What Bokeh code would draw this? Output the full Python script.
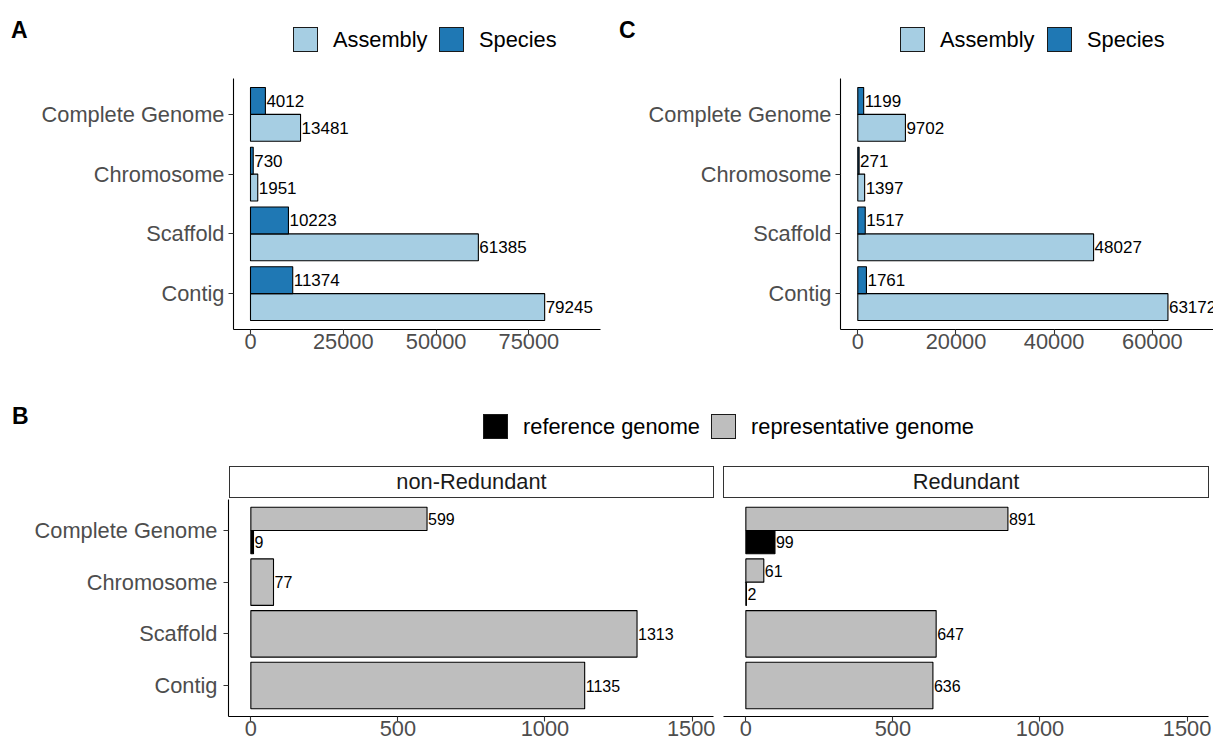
from bokeh.plotting import figure
from bokeh.models import (ColumnDataSource, Range1d, FixedTicker, SingleIntervalTicker,
                          NumeralTickFormatter, Div)
from bokeh.layouts import column, row
from bokeh.embed import file_html
from bokeh.resources import INLINE
from bokeh.core.properties import value

# ---------------- data ----------------
categories = ["Contig", "Scaffold", "Chromosome", "Complete Genome"]   # bottom -> top

assembly_A = [79245, 61385, 1951, 13481]
species_A = [11374, 10223, 730, 4012]

assembly_C = [63172, 48027, 1397, 9702]
species_C = [1761, 1517, 271, 1199]

facets_B = ["non-Redundant", "Redundant"]
reference_nonred = [None, None, None, 9]
representative_nonred = [1135, 1313, 77, 599]
reference_red = [None, None, 2, 99]
representative_red = [636, 647, 61, 891]

legend_A = ["Assembly", "Species"]
legend_B = ["reference genome", "representative genome"]
panel_letters = ["A", "C", "B"]

# ---------------- style ----------------
FONT = "Liberation Sans"
COL_ASM = "#A6CEE3"
COL_SPE = "#1F78B4"
COL_REF = "#000000"
COL_REP = "#BEBEBE"
TICK_FS = "21.8px"
DODGE = 0.225
BAR_H = 0.45

cat_pos = list(range(1, len(categories) + 1))


def make_fig(width, height, xr, mb_left, mb_right, mb_top, mb_bottom, interval,
             show_y=True, y_standoff=4):
    p = figure(width=width, height=height, x_range=Range1d(*xr), y_range=Range1d(0.4, 4.6),
               output_backend="svg", toolbar_location=None,
               min_border_left=mb_left, min_border_right=mb_right,
               min_border_top=mb_top, min_border_bottom=mb_bottom,
               y_axis_location="left" if show_y else None)
    p.outline_line_color = None
    p.grid.visible = False
    p.background_fill_color = "white"
    p.border_fill_color = "white"
    ax = p.xaxis[0]
    ax.ticker = SingleIntervalTicker(interval=interval)
    ax.formatter = NumeralTickFormatter(format="0")
    axes = [ax]
    if show_y:
        ay = p.yaxis[0]
        ay.ticker = FixedTicker(ticks=cat_pos)
        ay.major_label_overrides = {c: n for c, n in zip(cat_pos, categories)}
        ay.major_label_standoff = y_standoff
        axes.append(ay)
    for a in axes:
        a.axis_line_color = "black"
        a.axis_line_width = 1.1
        a.major_tick_line_color = "#333333"
        a.major_tick_line_width = 1.1
        a.major_tick_in = 0
        a.major_tick_out = 5
        a.minor_tick_line_color = None
        a.major_label_text_font = FONT
        a.major_label_text_font_size = TICK_FS
        a.major_label_text_color = "#4D4D4D"
    ax.major_label_standoff = -1
    return p


def header_div(width, height, letter, letter_left, letter_top, labels, colors, lefts, top):
    parts = [f'<div style="position:relative;width:{width}px;height:{height}px;'
             f'font-family:\'{FONT}\', sans-serif;color:#000;">',
             f'<div style="position:absolute;left:{letter_left}px;top:{letter_top}px;'
             f'font-size:23px;font-weight:bold;line-height:23px;">{letter}</div>']
    for lab, col, l in zip(labels, colors, lefts):
        parts.append(f'<div style="position:absolute;left:{l}px;top:{top}px;width:25px;height:25px;'
                     f'box-sizing:border-box;border:1.4px solid #1a1a1a;background:{col};"></div>')
        parts.append(f'<div style="position:absolute;left:{l + 40}px;top:{top}px;height:25px;'
                     f'line-height:25px;font-size:{TICK_FS};white-space:nowrap;">{lab}</div>')
    parts.append('</div>')
    return Div(text="".join(parts), width=width, height=height, margin=0)


def strip_div(width, height, name, left, box_w):
    html = (f'<div style="position:relative;width:{width}px;height:{height}px;'
            f'font-family:\'{FONT}\', sans-serif;">'
            f'<div style="position:absolute;left:{left}px;top:1px;width:{box_w}px;height:32px;'
            f'box-sizing:border-box;border:1.3px solid #333333;background:#fff;'
            f'text-align:center;line-height:30px;font-size:{TICK_FS};color:#1A1A1A;">{name}</div>'
            f'</div>')
    return Div(text=html, width=width, height=height, margin=0)


def species_panel(assembly, species, width, xr, mb_right, interval):
    p = make_fig(width, 292, xr, 233, mb_right, 0, 41, interval)
    y_sp = [c + DODGE for c in cat_pos]
    y_as = [c - DODGE for c in cat_pos]
    src_as = ColumnDataSource(dict(y=y_as, v=assembly, t=[str(v) for v in assembly]))
    src_sp = ColumnDataSource(dict(y=y_sp, v=species, t=[str(v) for v in species]))
    p.hbar(y="y", left=0, right="v", height=BAR_H, source=src_as,
           fill_color=COL_ASM, line_color="black", line_width=1.1)
    p.hbar(y="y", left=0, right="v", height=BAR_H, source=src_sp,
           fill_color=COL_SPE, line_color="black", line_width=1.1)
    for s in (src_as, src_sp):
        p.text(x="v", y="y", text="t", source=s, text_font=value(FONT),
               text_font_size="17px", text_color="black",
               text_align="left", text_baseline="middle", x_offset=1)
    return p


pA = species_panel(assembly_A, species_A, 607, (-4580, 94290), 7, 25000)
pC = species_panel(assembly_C, species_C, 606, (-3520, 72450), 0, 20000)
hA = header_div(607, 78, panel_letters[0], 11, 19, legend_A, [COL_ASM, COL_SPE], [293, 439], 27)
hC = header_div(606, 78, panel_letters[1], 12, 19, legend_A, [COL_ASM, COL_SPE], [293, 440], 27)
hB = header_div(1213, 95, panel_letters[2], 12, 35, legend_B, [COL_REF, COL_REP], [483, 711], 44)


# ---------------- panel B facets ----------------
def facet(reference, representative, width, mb_left, mb_right, show_y):
    p = make_fig(width, 243, (-76, 1573), mb_left, mb_right, 0, 26, 500,
                 show_y=show_y, y_standoff=6)
    ref_y, ref_v, ref_h = [], [], []
    rep_y, rep_v, rep_h = [], [], []
    for c, rf, rp in zip(cat_pos, reference, representative):
        both = rf is not None and rp is not None
        if rf is not None:
            ref_y.append(c - DODGE if both else c)
            ref_v.append(rf)
            ref_h.append(BAR_H if both else 2 * BAR_H)
        if rp is not None:
            rep_y.append(c + DODGE if both else c)
            rep_v.append(rp)
            rep_h.append(BAR_H if both else 2 * BAR_H)
    s_ref = ColumnDataSource(dict(y=ref_y, v=ref_v, h=ref_h, t=[str(v) for v in ref_v]))
    s_rep = ColumnDataSource(dict(y=rep_y, v=rep_v, h=rep_h, t=[str(v) for v in rep_v]))
    p.hbar(y="y", left=0, right="v", height="h", source=s_ref,
           fill_color=COL_REF, line_color="black", line_width=1.1)
    p.hbar(y="y", left=0, right="v", height="h", source=s_rep,
           fill_color=COL_REP, line_color="black", line_width=1.1)
    for s in (s_ref, s_rep):
        p.text(x="v", y="y", text="t", source=s, text_font=value(FONT),
               text_font_size="16px", text_color="black",
               text_align="left", text_baseline="middle", x_offset=1)
    return p


pB1 = facet(reference_nonred, representative_nonred, 715, 228, 2, True)
pB2 = facet(reference_red, representative_red, 498, 8, 5, False)
sB1 = strip_div(715, 34, facets_B[0], 229, 485)
sB2 = strip_div(498, 34, facets_B[1], 8, 486)

layout = column(
    row(column(hA, pA), column(hC, pC)),
    hB,
    row(column(sB1, pB1), column(sB2, pB2)),
)
open("out.html", "w").write(file_html(layout, INLINE))
